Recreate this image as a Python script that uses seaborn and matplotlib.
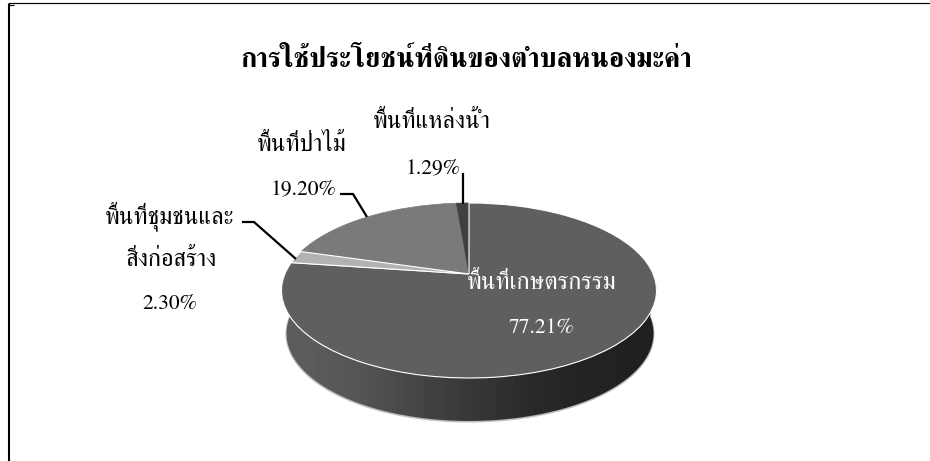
import numpy as np
import matplotlib
matplotlib.use('Agg')
import matplotlib.pyplot as plt
from matplotlib.patches import PathPatch
from matplotlib.path import Path
from matplotlib.transforms import Transform
import seaborn as sns

sns.set_theme(style='white')
plt.rcParams['font.family'] = ['FreeSerif', 'DejaVu Sans']

title = 'การใช้ประโยชน์ที่ดินของตำบลหนองมะค่า'
categories = ['พื้นที่เกษตรกรรม', 'พื้นที่ชุมชนและ\nสิ่งก่อสร้าง', 'พื้นที่ป่าไม้', 'พื้นที่แหล่งน้ำ']
percent = [77.21, 2.30, 19.20, 1.29]
percent_labels = ['77.21%', '2.30%', '19.20%', '1.29%']
colors = ['#5f5f5f', '#b2b2b2', '#7a7a7a', '#404040']

# apex of the tilted pie in pixels, and how strong the tilt looks
APEX_X, APEX_Y = 469, 274
TOP, BOTTOM = 71.0, 104.0
K = (BOTTOM - TOP) / (BOTTOM + TOP)
A = TOP * (1 + K)
B = 187.5 * np.sqrt(1 - K ** 2)


class Tilt(Transform):
    # perspective view of a flat unit pie, gives pixels
    input_dims = 2
    output_dims = 2
    is_affine = False

    def transform_non_affine(self, values):
        xy = np.asarray(values, dtype=float)
        w = 1 + K * xy[:, 1]
        return np.column_stack([APEX_X + B * xy[:, 0] / w, APEX_Y - A * xy[:, 1] / w])


fig = plt.figure(figsize=(9.3, 4.61), dpi=100)
ax = fig.add_axes([0, 0, 1, 1])

wedges, _ = ax.pie(percent, colors=colors, startangle=90, counterclock=False)
ax.set_aspect('auto')
ax.set_frame_on(False)
tilt = Tilt() + ax.transData
for i, w in enumerate(wedges):
    w.set_transform(tilt)
    w.set_clip_on(False)
    # only the big slice and the light one carry the white rim
    if i < 2:
        w.set_edgecolor('white')
        w.set_linewidth(0.8)
        w.set_zorder(3.5)
    else:
        w.set_edgecolor(colors[i])
        w.set_linewidth(0.5)
        w.set_zorder(3)

# side wall of the pie, a grey gradient clipped to the band under the top face
t = np.linspace(0, np.pi, 200)
top_edge = Tilt().transform(np.column_stack([-np.cos(t), -np.sin(t)]))
drop = np.column_stack([np.interp(top_edge[:, 0], [282, 469, 657], [5, 0, -3]),
                        np.full(len(t), 43.0)])
low_edge = top_edge + drop
side = Path(np.vstack([top_edge, low_edge[::-1], top_edge[:1]]))
ax.plot(low_edge[:, 0], low_edge[:, 1] + 0.6, color='#bdbdbd', lw=1.4, zorder=1)
shades = np.array([[0.36, 0.33, 0.27, 0.22, 0.17, 0.14, 0.13]])
img = ax.imshow(shades, cmap='gray', vmin=0, vmax=1, aspect='auto', interpolation='bilinear',
                extent=(282, 657, 430, 280), zorder=2)
ax.set_xlim(0, 930)
ax.set_ylim(461, 0)
img.set_clip_path(PathPatch(side, transform=ax.transData))

# frame of the page, only the left and top are on the crop
ax.plot([9, 9], [4, 461], color='black', lw=1.5, solid_capstyle='butt')
ax.plot([8, 930], [3.5, 3.5], color='black', lw=0.85, solid_capstyle='butt')
ax.plot([8, 14], [5, 5], color='black', lw=0.85, solid_capstyle='butt')

ax.text(466, 67, title, ha='center', va='baseline', fontsize=19.7, fontweight='bold', color='black')

lw = 1.6
ax.plot([242, 254, 296], [222, 222, 259], color='black', lw=lw, solid_joinstyle='miter', solid_capstyle='butt', zorder=4)
ax.plot([340, 353, 367], [194, 194, 217], color='black', lw=lw, solid_joinstyle='miter', solid_capstyle='butt', zorder=4)
ax.plot([463, 463], [173, 204], color='black', lw=lw, solid_capstyle='butt', zorder=4)

fs_thai = 17.6
fs_num = 15.5
first, second = categories[1].split('\n')

ax.text(541.5, 289, categories[0], ha='center', va='baseline', fontsize=fs_thai, color='white', zorder=5)
ax.text(541, 333, percent_labels[0], ha='center', va='baseline', fontsize=fs_num, color='white', zorder=5)

ax.text(170, 223, first, ha='center', va='baseline', fontsize=fs_thai, color='black')
ax.text(171, 266, second, ha='center', va='baseline', fontsize=fs_thai, color='black')
ax.text(170, 309, percent_labels[1], ha='center', va='baseline', fontsize=fs_num, color='black')

ax.text(302, 151, categories[2], ha='center', va='baseline', fontsize=fs_thai, color='black')
ax.text(303, 194, percent_labels[2], ha='center', va='baseline', fontsize=fs_num, color='black')

ax.text(432, 128, categories[3], ha='center', va='baseline', fontsize=fs_thai, color='black')
ax.text(433, 173, percent_labels[3], ha='center', va='baseline', fontsize=fs_num, color='black')

fig.savefig('out.png', dpi=100)
